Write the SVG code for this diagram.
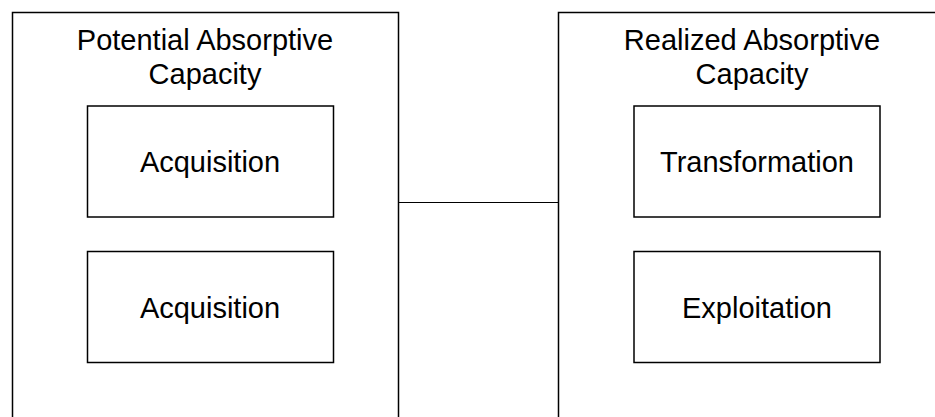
<svg xmlns="http://www.w3.org/2000/svg" width="935" height="417" viewBox="0 0 935 417">
  <style>
    .frame { fill: #ffffff; stroke: #000000; stroke-width: 1.5; }
    .box { fill: #ffffff; stroke: #000000; stroke-width: 1.5; }
    .link { fill: none; stroke: #000000; stroke-width: 1.2; }
    text { font-family: "Liberation Sans", Arial, sans-serif; font-size: 29px; fill: #000000; text-anchor: middle; }
  </style>
  <rect x="0" y="0" width="935" height="417" fill="#ffffff"/>

  <!-- Potential absorptive capacity -->
  <g id="potential">
    <rect class="frame" x="12.5" y="12.5" width="386" height="420"/>
    <text x="205" y="49.5">Potential Absorptive</text>
    <text x="205" y="83.5">Capacity</text>
  </g>
  <g id="acquisition-1">
    <rect class="box" x="87.5" y="106" width="246" height="111"/>
    <text x="210" y="172">Acquisition</text>
  </g>
  <g id="acquisition-2">
    <rect class="box" x="87.5" y="251.5" width="246" height="111"/>
    <text x="210" y="318">Acquisition</text>
  </g>

  <!-- Realized absorptive capacity -->
  <g id="realized">
    <rect class="frame" x="558.5" y="12.5" width="400" height="420"/>
    <text x="752" y="49.5">Realized Absorptive</text>
    <text x="752" y="83.5">Capacity</text>
  </g>
  <g id="transformation">
    <rect class="box" x="634" y="106" width="246" height="111"/>
    <text x="757" y="172">Transformation</text>
  </g>
  <g id="exploitation">
    <rect class="box" x="634" y="251.5" width="246" height="111"/>
    <text x="757" y="318">Exploitation</text>
  </g>

  <g id="connectors">
    <line class="link" x1="398.5" y1="202.5" x2="558.5" y2="202.5"/>
  </g>
</svg>
